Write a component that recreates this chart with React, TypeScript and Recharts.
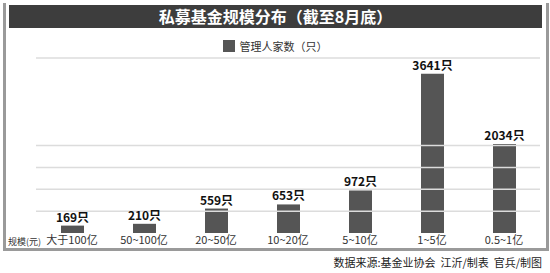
import React from 'react';
import { BarChart, Bar, XAxis, YAxis, LabelList, ReferenceLine } from 'recharts';

// ---- data ----
const categories = ['大于100亿', '50~100亿', '20~50亿', '10~20亿', '5~10亿', '1~5亿', '0.5~1亿'];
const managerCounts = [169, 210, 559, 653, 972, 3641, 2034];
const gridValues = [500, 1000, 1500, 2000, 4000];

const seriesName = '管理人家数（只）';
const title = '私募基金规模分布（截至8月底）';
const axisTitle = '规模(元)';
const sourceNote = '数据来源:基金业协会  江沂/制表  官兵/制图';

const FONT = '"Noto Sans CJK SC", "Noto Sans", sans-serif';
const BAR = '#555555';

const data = categories.map((name, i) => ({ name, value: managerCounts[i] }));

export default function App() {
  return (
    <div
      style={{
        position: 'absolute',
        left: 0,
        top: 0,
        width: 550,
        height: 273,
        background: '#fff',
        fontFamily: FONT,
        overflow: 'hidden',
      }}
    >
      {/* frame */}
      <div
        style={{
          position: 'absolute',
          left: 3,
          top: 3,
          width: 540,
          height: 245,
          borderLeft: '3px solid #9a9a9a',
          borderRight: '3px solid #9a9a9a',
          borderBottom: '3px solid #9a9a9a',
        }}
      />
      {/* title bar */}
      <div
        style={{
          position: 'absolute',
          left: 9,
          top: 5,
          width: 533,
          height: 23,
          background: '#3d3d3d',
          color: '#fff',
          fontSize: 16,
          fontWeight: 'bold',
          lineHeight: '23px',
          textAlign: 'center',
        }}
      >
        {title}
      </div>

      {/* legend */}
      <div
        style={{
          position: 'absolute',
          left: 0,
          top: 38,
          width: 550,
          display: 'flex',
          justifyContent: 'center',
          alignItems: 'center',
          fontSize: 11,
          color: '#333',
        }}
      >
        <span style={{ display: 'inline-block', width: 12, height: 12, background: BAR, marginRight: 5 }} />
        <span>{seriesName}</span>
      </div>

      <div style={{ position: 'absolute', left: 0, top: 0 }}>
        <BarChart
          width={550}
          height={273}
          data={data}
          margin={{ top: 58, right: 10, left: 36, bottom: 10 }}
        >
          <YAxis hide domain={[0, 4000]} />
          <XAxis
            dataKey="name"
            height={30}
            axisLine={false}
            tickLine={false}
            tickSize={0}
            tickMargin={3}
            interval={0}
            tick={{ fontSize: 11, fill: '#333', fontFamily: FONT }}
          />
          {gridValues.map((v) => (
            <ReferenceLine key={v} y={v} stroke="#dcdcdc" strokeWidth={1.5} />
          ))}
          <Bar dataKey="value" name={seriesName} fill={BAR} barSize={23} isAnimationActive={false}>
            <LabelList
              dataKey="value"
              position="top"
              offset={4}
              formatter={(v: number) => `${v}只`}
              style={{ fontSize: 12, fontWeight: 'bold', fill: '#111', fontFamily: FONT }}
            />
          </Bar>
        </BarChart>
      </div>

      <div
        style={{
          position: 'absolute',
          left: 8,
          top: 235,
          fontSize: 9,
          color: '#333',
        }}
      >
        {axisTitle}
      </div>

      <div
        style={{
          position: 'absolute',
          right: 8,
          top: 254,
          fontSize: 11,
          color: '#222',
          whiteSpace: 'pre',
        }}
      >
        {sourceNote}
      </div>
    </div>
  );
}
